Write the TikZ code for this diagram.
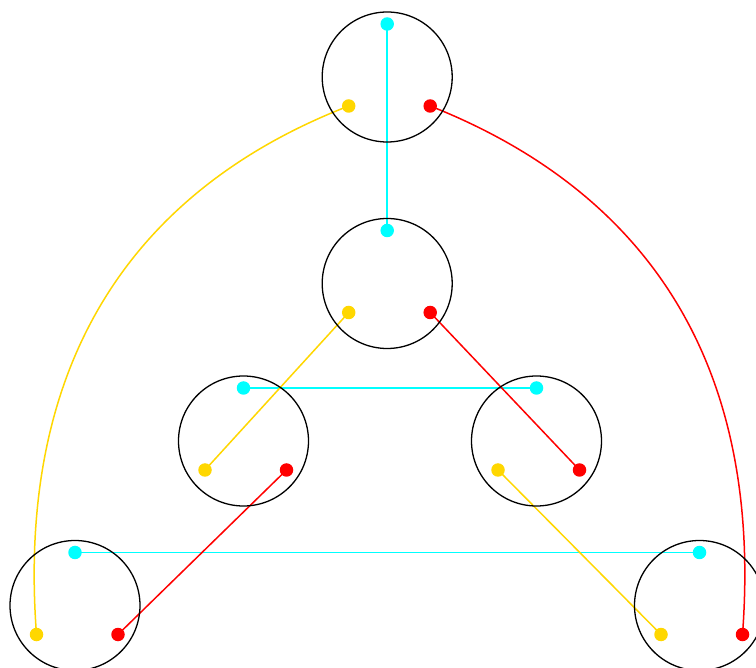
\documentclass[tikz,border=0pt]{standalone}
\usetikzlibrary{backgrounds}
\definecolor{dcyan}{HTML}{00FFFF}
\definecolor{dgold}{HTML}{FFD700}
\definecolor{dred}{HTML}{FF0000}
\tikzset{
  ring/.style={circle,draw=black,line width=1.3pt,minimum size=130pt,inner sep=0pt},
  dotbase/.style={circle,inner sep=0pt,minimum size=13.5pt},
  cdot/.style={dotbase,fill=dcyan},
  gdot/.style={dotbase,fill=dgold},
  rdot/.style={dotbase,fill=dred},
  cline/.style={draw=dcyan,line width=1.6pt},
  gline/.style={draw=dgold,line width=1.5pt},
  rline/.style={draw=dred,line width=1.5pt},
}
\begin{document}
\begin{tikzpicture}[x=1pt,y=-1pt]
\useasboundingbox (0,0) rectangle (756,668);
% circles
\node[ring] (A) at (387.2,77) {};
\node[ring] (B) at (387.2,283.5) {};
\node[ring] (C) at (243.5,441) {};
\node[ring] (D) at (536.5,441) {};
\node[ring] (E) at (75,605.5) {};
\node[ring] (F) at (699.5,605.5) {};
% dots
\foreach \n in {A,B,C,D,E,F}{
  \node[cdot] (\n c) at ([shift={(0,-53)}]\n.center) {};
  \node[gdot] (\n g) at ([shift={(-38.5,29)}]\n.center) {};
  \node[rdot] (\n r) at ([shift={(43,29)}]\n.center) {};
}
\begin{scope}[on background layer]
\fill[white] (0,0) rectangle (756,668);
\path[cline] (Ac.center) -- (Bc.center);
\path[cline] (Cc.center) -- (Dc.center);
\path[cline] (Ec.center) -- (Fc.center);
\path[gline] (Bg.center) -- (Cg.center);
\path[rline] (Br.center) -- (Dr.center);
\path[rline] (Cr.center) -- (Er.center);
\path[gline] (Dg.center) -- (Fg.center);
\path[gline] (Ag.center) .. controls (144.4,185.2) and (15,350) .. (Eg.center);
\path[rline] (Ar.center) .. controls (634.6,187) and (764,350) .. (Fr.center);
\end{scope}
\end{tikzpicture}
\end{document}
